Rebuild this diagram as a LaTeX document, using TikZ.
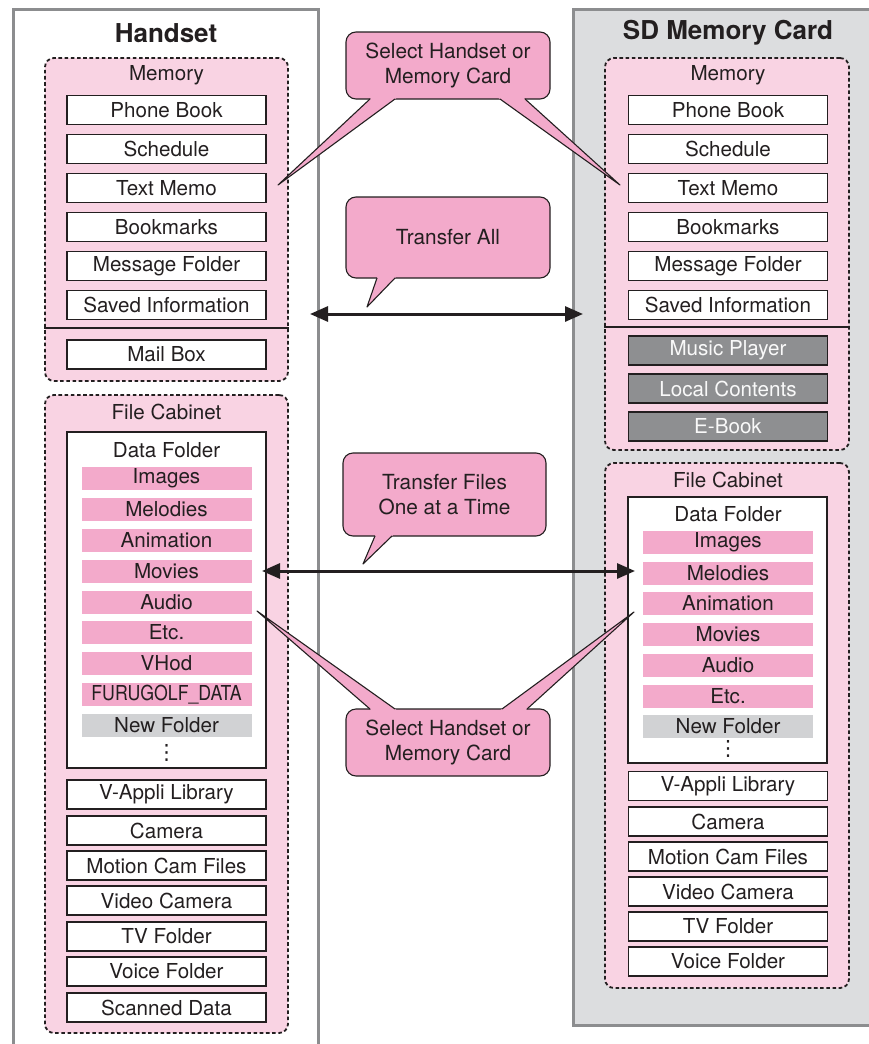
\documentclass[tikz,border=0pt]{standalone}
\usepackage{fontspec}
\usepackage{graphicx}
\setmainfont{TeX Gyre Heros}
\newfontfamily\symbolfont{DejaVu Sans}
\usetikzlibrary{arrows.meta,calc}

\definecolor{ink}{HTML}{231F20}
\definecolor{panelgray}{HTML}{DCDDDF}
\definecolor{paneledge}{HTML}{8C8D8F}
\definecolor{softpink}{HTML}{F9D3E3}
\definecolor{barpink}{HTML}{F3AACB}
\definecolor{newgray}{HTML}{D1D2D4}
\definecolor{lockgray}{HTML}{8E8F91}

\newcommand\itemfont{\fontsize{20.6}{24}\selectfont}
\newcommand\notefont{\fontsize{20.8}{25}\selectfont}
\newcommand\headfont{\fontsize{26}{30}\selectfont\bfseries}
\newcommand\dotsfont{\symbolfont\fontsize{21}{21}\selectfont}

% speech-bubble tail: tip coordinate, two base points on the bubble edge
\newcommand\calltail[3]{%
  \fill[barpink] (#1) -- ($(#1)!1.08!(#2)$) -- ($(#1)!1.08!(#3)$) -- cycle;
  \draw[tailline] (#2) -- (#1) -- (#3);}

\begin{document}
\begin{tikzpicture}[x=1pt,y=-1pt,
  group/.style={draw=ink, fill=softpink, line width=1.8pt,
    dash pattern=on 3.6pt off 2.6pt, rounded corners=9pt, inner sep=0pt},
  item/.style={draw=ink, fill=white, line width=1.5pt, minimum width=199pt,
    minimum height=29pt, inner sep=0pt, font=\itemfont, text=ink},
  locked/.style={item, fill=lockgray, text=white!95!lockgray},
  bar/.style={fill=barpink, minimum width=170pt, minimum height=23pt,
    inner sep=0pt, font=\itemfont, text=ink},
  newbar/.style={bar, fill=newgray},
  caption/.style={font=\itemfont, text=ink, inner sep=0pt},
  moremark/.style={font=\dotsfont, text=ink, inner sep=0pt},
  title/.style={font=\headfont, text=ink, inner sep=0pt},
  callout/.style={draw=ink, fill=barpink, line width=1.1pt, rounded corners=10pt,
    font=\notefont, text=ink, align=center, inner sep=0pt},
  tailline/.style={draw=ink, line width=1.1pt, line join=round},
  transfer/.style={draw=ink, line width=3pt,
    {Triangle[length=18pt,width=15pt]}-{Triangle[length=18pt,width=15pt]}},
]
\useasboundingbox (0,0) rectangle (869,1044);

% the two storage panels
\fill[panelgray] (573,9) rectangle (885,1025);
\draw[paneledge, line width=3pt] (885,1025) -- (573,1025) -- (573,9) -- (885,9);
\draw[paneledge, line width=3pt] (13,1060) -- (13,9) -- (318,9) -- (318,1060);

\node[title] (hs-title) at (166,33) {Handset};
\node[title] (sd-title) at (728,33) {SD Memory Card};

% ---------------- Handset: memory ----------------
\node[group, minimum width=243pt, minimum height=323pt] (l-mem) at (166.5,219.5) {};
\node[caption] (l-mem-cap) at (166.5,75) {Memory};
\foreach \t/\y/\n in {Phone Book/110/pb, Schedule/149/sc, Text Memo/188/tm,
    Bookmarks/227/bm, Message Folder/266/mf, Saved Information/305/si,
    Mail Box/354.5/mb}
  \node[item] (l-\n) at (166.5,\y) {\t};
\coordinate (l-cut) at (0,328);
\draw[ink, line width=1.5pt] (l-mem.west |- l-cut) -- (l-mem.east |- l-cut);

% ---------------- Handset: file cabinet ----------------
\node[group, minimum width=243pt, minimum height=638pt] (l-fc) at (166.5,714) {};
\node[caption] (l-fc-cap) at (166.5,412) {File Cabinet};
\node[item, minimum height=336pt] (l-data) at (166.5,600) {};
\node[caption] (l-data-cap) at (166.5,450) {Data Folder};
\foreach \t/\y/\n in {Images/478.5/img, Melodies/509.5/mel, Animation/540.5/ani,
    Movies/571.5/mov, Audio/602.5/aud, Etc./632.5/etc, VHod/663.5/vh}
  \node[bar] (l-\n) at (166.5,\y) {\t};
\node[bar] (l-golf) at (166.5,694.5) {\scalebox{0.86}[1]{FURUGOLF\_DATA}};
\node[newbar] (l-new) at (166.5,725.5) {New Folder};
\node[moremark, anchor=base] (l-more) at (166.5,759) {⋮};
\foreach \t/\y/\n in {V-Appli Library/794.5/va, Camera/830.5/cam,
    Motion Cam Files/865.5/mc, Video Camera/900.5/vc, TV Folder/936.5/tv,
    Voice Folder/971.5/vf, Scanned Data/1007.5/sd}
  \node[item] (l-\n) at (166.5,\y) {\t};

% ---------------- SD card: memory ----------------
\node[group, minimum width=244pt, minimum height=392pt] (r-mem) at (727,254) {};
\node[caption] (r-mem-cap) at (728,75) {Memory};
\foreach \t/\y/\n in {Phone Book/110/pb, Schedule/149/sc, Text Memo/188/tm,
    Bookmarks/227/bm, Message Folder/266/mf, Saved Information/305/si}
  \node[item] (r-\n) at (728,\y) {\t};
\coordinate (r-cut) at (0,327);
\draw[ink, line width=1.5pt] (r-mem.west |- r-cut) -- (r-mem.east |- r-cut);
\foreach \t/\y/\n in {Music Player/350.5/mp, Local Contents/388.5/lc, E-Book/426.5/eb}
  \node[locked] (r-\n) at (728,\y) {\t};

% ---------------- SD card: file cabinet ----------------
\node[group, minimum width=244pt, minimum height=525pt] (r-fc) at (727,725.5) {};
\node[caption] (r-fc-cap) at (728,480) {File Cabinet};
\node[item, minimum height=266pt] (r-data) at (727.5,630) {};
\node[caption] (r-data-cap) at (728,514) {Data Folder};
\foreach \t/\y/\n in {Images/542/img, Melodies/573/mel, Animation/603/ani,
    Movies/634/mov, Audio/665/aud, Etc./696/etc}
  \node[bar] (r-\n) at (728,\y) {\t};
\node[newbar] (r-new) at (728,726) {New Folder};
\node[moremark, anchor=base] (r-more) at (728,755) {⋮};
\foreach \t/\y/\n in {V-Appli Library/786/va, Camera/821.5/cam,
    Motion Cam Files/856.5/mc, Video Camera/891.5/vc, TV Folder/926.5/tv,
    Voice Folder/961.5/vf}
  \node[item] (r-\n) at (728,\y) {\t};

% ---------------- transfer arrows ----------------
\coordinate (all-l) at (310,314);
\coordinate (all-r) at (583,314);
\draw[transfer] (all-l) -- (all-r);
\coordinate (one-l) at (262,571);
\coordinate (one-r) at (635,571);
\draw[transfer] (one-l) -- (one-r);

% ---------------- speech bubbles ----------------
\node[callout, minimum width=204pt, minimum height=67pt] (pick-top) at (448,65.5)
  {Select Handset or\\Memory Card};
\coordinate (pick-top-l) at (278,185);
\coordinate (pick-top-r) at (620,185);
\calltail{pick-top-l}{370,99}{395,99}
\calltail{pick-top-r}{500,99}{525,99}

\node[callout, minimum width=204pt, minimum height=81pt] (all-note) at (448,237.5)
  {Transfer All};
\coordinate (all-tip) at (367,307);
\calltail{all-tip}{377,278}{395,278}

\node[callout, minimum width=203pt, minimum height=83pt] (one-note) at (444.5,494.5)
  {Transfer Files\\One at a Time};
\coordinate (one-tip) at (363,564);
\calltail{one-tip}{375,536}{392,536}

\node[callout, minimum width=204pt, minimum height=67pt] (pick-bot) at (448,742.5)
  {Select Handset or\\Memory Card};
\coordinate (pick-bot-l) at (257,611);
\coordinate (pick-bot-r) at (634,612);
\calltail{pick-bot-l}{370,709}{395,709}
\calltail{pick-bot-r}{502,709}{527,709}

\end{tikzpicture}
\end{document}
